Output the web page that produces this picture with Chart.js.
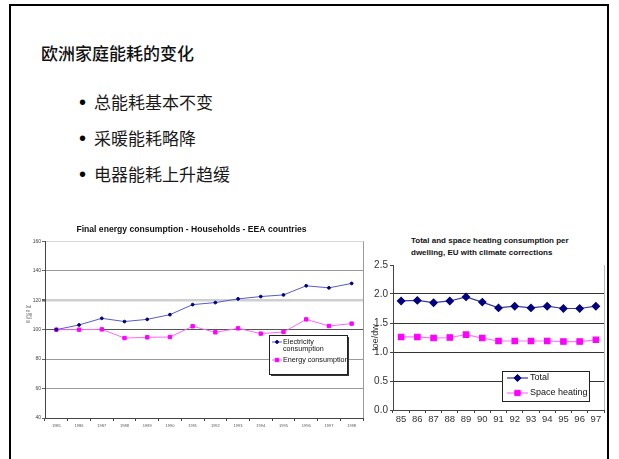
<!DOCTYPE html>
<html>
<head>
<meta charset="utf-8">
<script src="https://cdn.jsdelivr.net/npm/chart.js@4.4.1/dist/chart.umd.min.js"></script>
<style>
  html, body { margin: 0; padding: 0; background: #fff; }
  body { width: 619px; height: 459px; position: relative; overflow: hidden; }
  .frame { position: absolute; left: 9px; top: 4px; width: 596px; height: 480px; border: 2px solid #000; }
  .heading { position: absolute; left: 41px; top: 43px; font: 500 17px/20px "Noto Sans CJK SC", sans-serif; color: #111; }
  ul.points { position: absolute; left: 79px; top: 84px; margin: 0; padding: 0; list-style: none;
    font: 400 17px/36px "Noto Sans CJK SC", sans-serif; color: #1a1a1a; }
  ul.points li { height: 36px; white-space: nowrap; }
  ul.points li::before { content: "\2022"; display: inline-block; width: 15px; font-size: 20px; vertical-align: top; font-family: "Liberation Sans", Arial, sans-serif; color: #000; }
  .box { position: absolute; }
  .subtitle { position: absolute; left: 411px; top: 235px; font: bold 8px/12px "Liberation Sans", Arial, sans-serif; color: #111; }
</style>
</head>
<body>
<div class="frame"></div>
<div class="heading">欧洲家庭能耗的变化</div>
<ul class="points">
  <li>总能耗基本不变</li>
  <li>采暖能耗略降</li>
  <li>电器能耗上升趋缓</li>
</ul>
<div class="box" style="left:20px; top:220px; width:350px; height:210px;"><canvas id="households"></canvas></div>
<div class="subtitle">Total and space heating consumption per<br>dwelling, EU with climate corrections</div>
<div class="box" style="left:370px; top:230px; width:245px; height:200px;"><canvas id="dwelling"></canvas></div>
<script>
// households index, 1985 = 100
const years = ['1985', '1986', '1987', '1988', '1989', '1990', '1991', '1992', '1993', '1994', '1995', '1996', '1997', '1998'];
const electricity = [100, 103.2, 107.7, 105.5, 107, 110.2, 117, 118.4, 120.9, 122.5, 123.6, 129.8, 128.4, 131.4];
const energy = [100, 100, 100.2, 94.3, 94.8, 95, 102.3, 98.2, 100.9, 97.3, 98.4, 107, 102.5, 104.1];
const indexTicks = [40, 60, 80, 100, 120, 140, 160];

// consumption per dwelling, toe/dw
const dwellingYears = ['85', '86', '87', '88', '89', '90', '91', '92', '93', '94', '95', '96', '97'];
const totalPerDwelling = [1.88, 1.89, 1.85, 1.88, 1.95, 1.86, 1.76, 1.79, 1.76, 1.79, 1.75, 1.75, 1.79];
const heatingPerDwelling = [1.26, 1.26, 1.24, 1.25, 1.30, 1.24, 1.19, 1.19, 1.19, 1.19, 1.18, 1.18, 1.21];
const dwellingTicks = [0, 0.5, 1, 1.5, 2, 2.5];

const FONT = '"Liberation Sans", Arial, sans-serif';
Chart.defaults.font.family = FONT;
Chart.defaults.color = '#333';

// boxed legend drawn inside the plot, Excel style
const boxLegend = {
  id: 'boxLegend',
  afterDraw(chart, args, opts) {
    const ctx = chart.ctx;
    ctx.save();
    if (opts.shadow) {
      ctx.fillStyle = '#333';
      ctx.fillRect(opts.x + 2, opts.y + 2, opts.w, opts.h);
    }
    ctx.fillStyle = '#fff';
    ctx.fillRect(opts.x, opts.y, opts.w, opts.h);
    ctx.strokeStyle = '#222';
    ctx.lineWidth = 1;
    ctx.strokeRect(opts.x + 0.5, opts.y + 0.5, opts.w, opts.h);
    ctx.beginPath();
    ctx.rect(opts.x, opts.y, opts.w, opts.h);
    ctx.clip();
    ctx.font = opts.fontSize + 'px ' + FONT;
    ctx.textBaseline = 'middle';
    opts.rows.forEach((row, i) => {
      const ds = chart.data.datasets[i];
      ctx.strokeStyle = ds.borderColor;
      ctx.lineWidth = ds.borderWidth;
      ctx.beginPath();
      ctx.moveTo(opts.x + opts.lineFrom, row.y);
      ctx.lineTo(opts.x + opts.lineTo, row.y);
      ctx.stroke();
      ctx.fillStyle = ds.pointBackgroundColor;
      ctx.strokeStyle = ds.pointBorderColor;
      ctx.lineWidth = 1;
      Chart.helpers.drawPoint(ctx, { pointStyle: ds.pointStyle, radius: ds.pointRadius, rotation: 0, borderWidth: 1 },
        opts.x + (opts.lineFrom + opts.lineTo) / 2, row.y);
      ctx.fillStyle = '#111';
      row.lines.forEach((t, k) => ctx.fillText(t, opts.x + opts.textX, row.y + k * opts.lineH));
    });
    ctx.restore();
  }
};

// right-hand edge of the plot area and the small axis caption
const plotEdge = {
  id: 'plotEdge',
  afterDraw(chart, args, opts) {
    const { ctx, chartArea } = chart;
    ctx.save();
    ctx.strokeStyle = opts.color;
    ctx.lineWidth = 1;
    ctx.beginPath();
    ctx.moveTo(Math.round(chartArea.right) + 0.5, chartArea.top);
    ctx.lineTo(Math.round(chartArea.right) + 0.5, chartArea.bottom);
    ctx.stroke();
    if (opts.caption) {
      ctx.fillStyle = '#444';
      ctx.font = '3.5px ' + FONT;
      ctx.textBaseline = 'middle';
      opts.caption.forEach((t, i) => ctx.fillText(t, 6, opts.captionY + i * 3.8));
    }
    ctx.restore();
  }
};

new Chart(document.getElementById('households'), {
  type: 'line',
  data: {
    labels: years,
    datasets: [
      { label: 'Electricity consumption', data: electricity, borderColor: '#5a5ac8', borderWidth: 1,
        pointStyle: 'circle', pointRadius: 1.4, pointBackgroundColor: '#000080', pointBorderColor: '#000080', tension: 0 },
      { label: 'Energy consumption', data: energy, borderColor: '#ff66ff', borderWidth: 1,
        pointStyle: 'rect', pointRadius: 2.4, pointBackgroundColor: '#ff00ff', pointBorderColor: '#ff00ff', tension: 0 }
    ]
  },
  options: {
    responsive: true,
    maintainAspectRatio: false,
    animation: false,
    layout: { padding: { left: 0, right: 7, top: 0, bottom: 0 } },
    plugins: {
      legend: { display: false },
      tooltip: { enabled: false },
      title: { display: true, text: 'Final energy consumption - Households - EEA countries',
        font: { size: 8.6, weight: 'bold' }, color: '#111', padding: { top: 4, bottom: 7 }, lineHeight: 1.2 },
      boxLegend: {
        x: 249, y: 115, w: 78, h: 39, shadow: true, fontSize: 7.2, lineH: 7,
        lineFrom: 3, lineTo: 13, textX: 14,
        rows: [{ y: 122, lines: ['Electricity', 'consumption'] }, { y: 140, lines: ['Energy consumption'] }]
      },
      plotEdge: { color: '#999', caption: ['Ind', 'ex', '198', '5=1', '00'], captionY: 87 }
    },
    scales: {
      x: {
        offset: true,
        grid: { drawOnChartArea: false, offset: true, tickLength: 3, color: '#444' },
        border: { color: '#444' },
        ticks: { font: { size: 4 }, color: '#555', padding: 2, maxRotation: 0, autoSkip: false },
        afterFit: s => { s.height = 12; }
      },
      y: {
        min: 40, max: 160,
        afterBuildTicks: s => { s.ticks = indexTicks.map(v => ({ value: v })); },
        grid: {
          tickLength: 3,
          color: c => c.tick.value === 100 ? '#555' : c.tick.value === 120 ? '#cfcfcf' : c.tick.value === 160 ? '#d8d8d8' : '#9a9a9a',
          lineWidth: c => c.tick.value === 120 ? 2.5 : 1,
          tickColor: '#666'
        },
        border: { color: '#444' },
        ticks: { font: { size: 5 }, color: '#444', padding: 1 },
        afterFit: s => { s.width = 25; }
      }
    }
  },
  plugins: [boxLegend, plotEdge]
});

new Chart(document.getElementById('dwelling'), {
  type: 'line',
  data: {
    labels: dwellingYears,
    datasets: [
      { label: 'Total', data: totalPerDwelling, borderColor: '#3a3a9a', borderWidth: 1.2,
        pointStyle: 'rectRot', pointRadius: 3.6, pointBackgroundColor: '#000080', pointBorderColor: '#000080', tension: 0 },
      { label: 'Space heating', data: heatingPerDwelling, borderColor: '#ff77ff', borderWidth: 1.2,
        pointStyle: 'rect', pointRadius: 3.8, pointBackgroundColor: '#ff00ff', pointBorderColor: '#ff00ff', tension: 0 }
    ]
  },
  options: {
    responsive: true,
    maintainAspectRatio: false,
    animation: false,
    layout: { padding: { left: 0, right: 11, top: 35, bottom: 0 } },
    plugins: {
      legend: { display: false },
      tooltip: { enabled: false },
      boxLegend: {
        x: 132, y: 141, w: 87, h: 30, shadow: false, fontSize: 9, lineH: 0,
        lineFrom: 5, lineTo: 26, textX: 28,
        rows: [{ y: 148, lines: ['Total'] }, { y: 163, lines: ['Space heating'] }]
      },
      plotEdge: { color: '#bbb' }
    },
    scales: {
      x: {
        offset: true,
        grid: { drawOnChartArea: false, offset: true, tickLength: 3, color: '#444' },
        border: { color: '#444' },
        ticks: { font: { size: 9.5 }, color: '#333', padding: 1, maxRotation: 0, autoSkip: false },
        afterFit: s => { s.height = 20; }
      },
      y: {
        min: 0, max: 2.5,
        afterBuildTicks: s => { s.ticks = dwellingTicks.map(v => ({ value: v })); },
        grid: {
          tickLength: 3,
          color: c => c.tick.value === 2.5 || c.tick.value === 0 ? 'rgba(0,0,0,0)' : '#333',
          tickColor: '#444'
        },
        border: { color: '#444' },
        title: { display: true, text: 'toe/dw', font: { size: 9 }, color: '#333', padding: 0 },
        ticks: { font: { size: 10 }, color: '#333', padding: 2, callback: v => Number(v).toFixed(1) },
        afterFit: s => { s.width = 23; }
      }
    }
  },
  plugins: [boxLegend, plotEdge]
});
</script>
</body>
</html>
